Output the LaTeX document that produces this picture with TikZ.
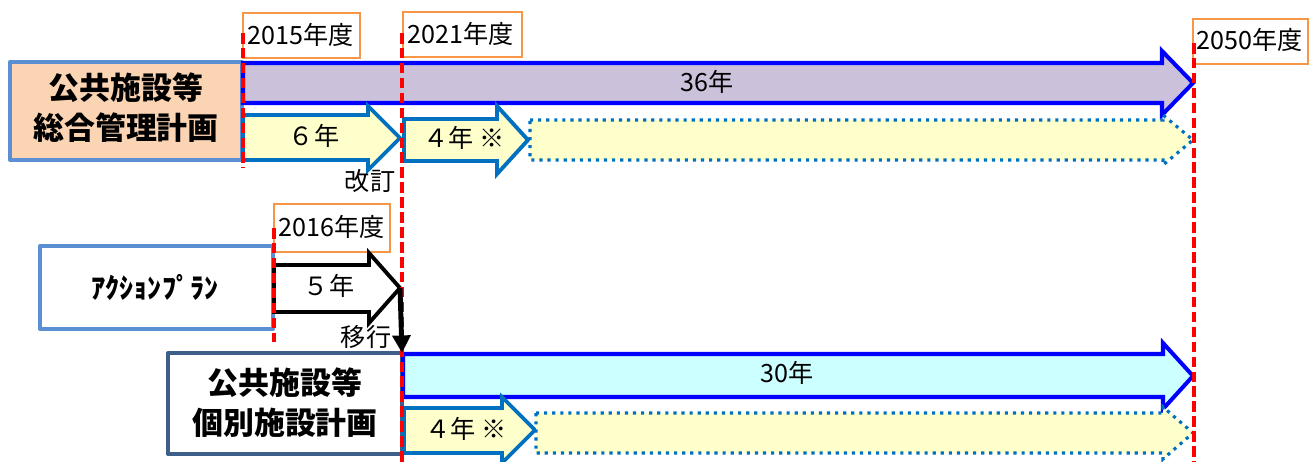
\documentclass[tikz,border=0pt]{standalone}
\usepackage{fontspec}
\usetikzlibrary{arrows.meta}
\newfontfamily\jp{Noto Sans CJK JP}
\definecolor{peach}{HTML}{FBD4B4}
\definecolor{boxblue}{HTML}{5B8FD3}
\definecolor{darkbox}{HTML}{3E5F8A}
\definecolor{lav}{HTML}{CCC1DA}
\definecolor{pblue}{HTML}{0000FF}
\definecolor{cyanf}{HTML}{CCFFFF}
\definecolor{yel}{HTML}{FFFFCC}
\definecolor{ablue}{HTML}{0070C0}
\definecolor{orangec}{HTML}{F79646}
\definecolor{redl}{HTML}{FF0000}
\begin{document}
\begin{tikzpicture}[x=0.02cm,y=-0.02cm,
  font=\jp\fontsize{14.3pt}{17pt}\selectfont,
  yearbox/.style={draw=orangec, line width=1.2pt, fill=white},
  titlebox/.style={draw=boxblue, line width=2.3pt, line join=round},
  titletext/.style={font=\jp\bfseries\fontsize{17.6pt}{22.7pt}\selectfont, align=center, inner sep=0pt},
  longarrow/.style={draw=pblue, line width=2.3pt, line join=miter},
  yelarrow/.style={draw=ablue, fill=yel, line width=2.2pt, line join=miter},
  dotarrow/.style={draw=ablue, fill=yel, line width=1.8pt, dash pattern=on 1.8pt off 2.8pt},
  guide/.style={draw=redl, line width=2.4pt, dash pattern=on 6pt off 2.5pt},
  lbl/.style={inner sep=0pt}
]
\useasboundingbox (0,0) rectangle (1309,462);
% year boxes
\draw[yearbox] (243,13) rectangle (360,58);
\node[lbl] (y2015) at (301,35) {2015年度};
\draw[yearbox] (403,12) rectangle (522,57);
\node[lbl] (y2021) at (461,34) {2021年度};
\draw[yearbox] (1193,19) rectangle (1308,64);
\node[lbl] (y2050) at (1250,40) {2050年度};
\draw[yearbox] (274,204) rectangle (390,252);
\node[lbl] (y2016) at (332,227) {2016年度};
% title boxes
\draw[titlebox, fill=peach] (10,62) rectangle (242,160);
\node[titletext] (sogo) at (126,108) {公共施設等\\総合管理計画};
\draw[titlebox, fill=white] (40,246) rectangle (273,329);
\node[lbl, font=\jp\bfseries\fontsize{16pt}{19pt}\selectfont] (action) at (155,287) {ｱｸｼｮﾝﾌﾟﾗﾝ};
\draw[titlebox, draw=darkbox, fill=white] (168,353) rectangle (402,454);
\node[titletext] (kobetsu) at (285,403) {公共施設等\\個別施設計画};
% arrows
\draw[longarrow, fill=lav] (243,63) -- (1162,63) -- (1162,51) -- (1193,83) -- (1162,115) -- (1162,103) -- (243,103) -- cycle;
\node[lbl] (t36) at (707,82) {36年};
\draw[yelarrow] (243,115) -- (368,115) -- (368,106) -- (400,138) -- (368,170) -- (368,160) -- (243,160) -- cycle;
\node[lbl] (t6) at (314,136) {６年};
\draw[yelarrow] (404,119) -- (497,119) -- (497,106) -- (528,140) -- (497,174) -- (497,161) -- (404,161) -- cycle;
\node[lbl] (t4a) at (464,138) {４年 ※};
\draw[dotarrow] (530,120) -- (1163,120) -- (1163,115) -- (1193,140) -- (1163,165) -- (1163,160) -- (530,160) -- cycle;
\draw[draw=black, fill=white, line width=2.2pt, line join=miter] (274,265) -- (369,265) -- (369,253) -- (400,288) -- (369,323) -- (369,312) -- (274,312) -- cycle;
\coordinate (tip5) at (400,288);
\node[lbl] (t5) at (329,286) {５年};
\draw[longarrow, fill=cyanf] (403,354) -- (1163,354) -- (1163,343) -- (1193,376) -- (1163,409) -- (1163,397) -- (403,397) -- cycle;
\node[lbl] (t30) at (787,373) {30年};
\draw[yelarrow] (404,408) -- (502,408) -- (502,397) -- (535,430) -- (502,463) -- (502,453) -- (404,453) -- cycle;
\node[lbl] (t4b) at (466,429) {４年 ※};
\draw[dotarrow] (536,413) -- (1163,413) -- (1163,407) -- (1193,433) -- (1163,459) -- (1163,453) -- (536,453) -- cycle;
% labels
\node[lbl] (kaitei) at (370,181) {改訂};
\node[lbl] (ikou) at (366,337) {移行};
% guide lines
\draw[guide] (243,33) -- (243,168);
\draw[guide] (402,33) -- (402,462);
\draw[guide] (1194,43) -- (1194,462);
\draw[guide] (274,228) -- (274,342);
% transition connector
\coordinate (kobtop) at (402,353);
\draw[line width=2.8pt, -{Triangle[length=10pt,width=10pt]}] (tip5) -- (kobtop);
\end{tikzpicture}
\end{document}
